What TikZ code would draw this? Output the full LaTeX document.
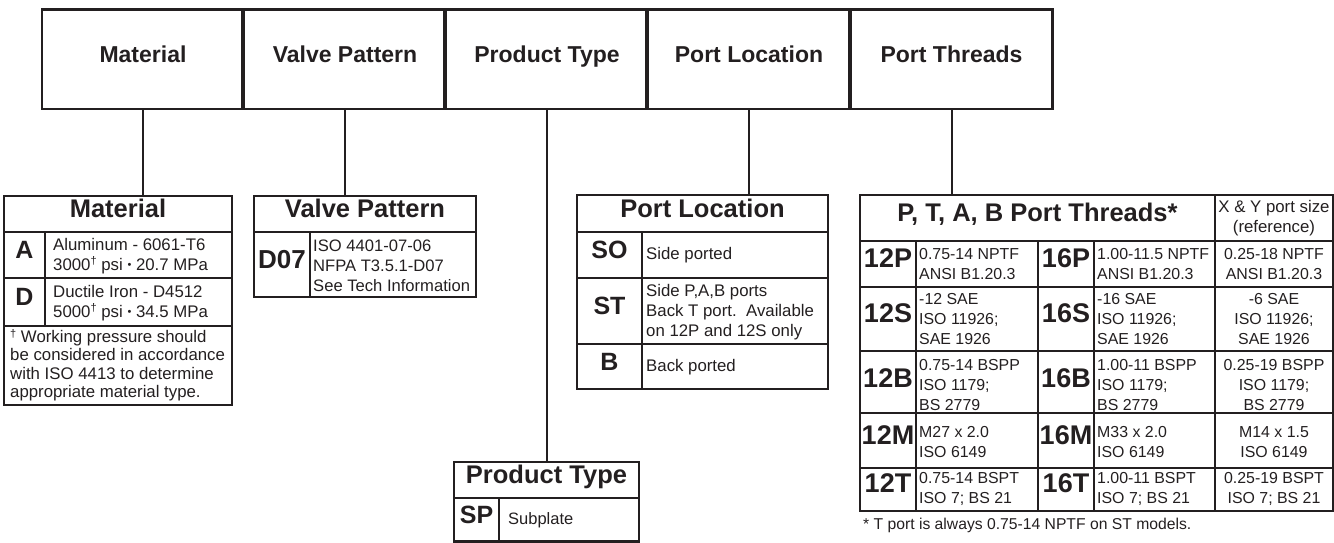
\documentclass[tikz,border=0pt]{standalone}
\usepackage{fontspec}
\setmainfont{Liberation Sans}
\definecolor{ink}{HTML}{231F20}
\newcommand{\dgr}{\raisebox{0.32em}{\fontsize{11}{11}\selectfont †}}
\newcommand{\smdot}{\raisebox{0.08em}{\fontsize{11}{11}\selectfont •}}

\begin{document}
\begin{tikzpicture}[x=1pt, y=-1pt, color=ink,
    topbox/.style={draw, line width=2.2pt, minimum width=202pt, minimum height=99.5pt, inner sep=0pt,
      text height=0.716em, text depth=0pt, font=\fontsize{23}{27}\selectfont\bfseries},
    headcell/.style={draw, line width=2.4pt, minimum height=36pt, inner sep=0pt,
      text height=0.716em, text depth=0pt, font=\fontsize{25.5}{30}\selectfont\bfseries},
    code/.style={inner sep=0pt, text height=0.716em, text depth=0pt, font=\fontsize{25}{30}\selectfont\bfseries},
    bigcode/.style={code, font=\fontsize{27}{30}\selectfont\bfseries},
    txt/.style={anchor=west, align=left, inner sep=0pt, font=\fontsize{16.8}{19.8}\selectfont},
    cell/.style={txt, font=\fontsize{15.9}{20.4}\selectfont},
    ctxt/.style={align=center, inner sep=0pt, font=\fontsize{15.9}{20.4}\selectfont},
    frame/.style={line width=2.4pt},
    rule/.style={line width=1.4pt},
    link/.style={line width=2pt}]
    \useasboundingbox (0,0) rectangle (1334,543);

    % ordering code boxes
    \node [topbox] (material) at (143,59.25) {Material};
    \node [topbox] (valve) at (345,59.25) {Valve Pattern};
    \node [topbox] (ptype) at (547,59.25) {Product Type};
    \node [topbox] (location) at (749,59.25) {Port Location};
    \node [topbox] (threads) at (951.5,59.25) {Port Threads};
    \draw [line width=3.6pt] (valve.north west) -- (valve.south west) (ptype.north west) -- (ptype.south west)
      (location.north west) -- (location.south west) (threads.north west) -- (threads.south west);

    % material
    \node [headcell, minimum width=228pt] (mathead) at (118,214) {Material};
    \draw [frame] (4,232) rectangle (232,405);
    \draw [rule] (4,278) -- (232,278) (4,326) -- (232,326) (45,232) -- (45,326);
    \node [code] (mata) at (24.5,255) {A};
    \node [txt] (matatxt) at (53,256) {Aluminum - 6061-T6\\3000\dgr{} psi \smdot{} 20.7 MPa};
    \node [code] (matd) at (24.5,302) {D};
    \node [txt] (matdtxt) at (53,303) {Ductile Iron - D4512\\5000\dgr{} psi \smdot{} 34.5 MPa};
    \node [txt, font=\fontsize{16.8}{18.3}\selectfont] (matnote) at (10,365)
      {\dgr{} Working pressure should\\be considered in accordance\\with ISO 4413 to determine\\appropriate material type.};

    % valve pattern
    \node [headcell, minimum width=222pt] (valvehead) at (365,214) {Valve Pattern};
    \draw [frame] (254,232) rectangle (476,297);
    \draw [rule] (310,232) -- (310,297);
    \node [code, font=\fontsize{26}{30}\selectfont\bfseries] (d07) at (282,265) {D07};
    \node [txt, font=\fontsize{16.6}{20}\selectfont] (d07txt) at (313,266) {ISO 4401-07-06\\NFPA T3.5.1-D07\\See Tech Information};

    % port location
    \node [headcell, minimum width=251pt, minimum height=37pt] (lochead) at (702.5,213.5) {Port Location};
    \draw [frame] (577,232) rectangle (828,389);
    \draw [rule] (577,278) -- (828,278) (577,344) -- (828,344) (642,232) -- (642,389);
    \node [code] (so) at (609.5,255) {SO};
    \node [txt] (sotxt) at (646,255) {Side ported};
    \node [code] (st) at (609.5,311) {ST};
    \node [txt, font=\fontsize{16.8}{20}\selectfont] (sttxt) at (646,312) {Side P,A,B ports\\Back T port.\ \ Available\\on 12P and 12S only};
    \node [code] (bk) at (609.5,366.5) {B};
    \node [txt] (bktxt) at (646,367) {Back ported};

    % port threads
    \node [headcell, minimum width=355pt, minimum height=46pt] (thrhead) at (1037.5,218) {P, T, A, B Port Threads*};
    \node [headcell, minimum width=118pt, minimum height=46pt, text height=, text depth=, align=center,
      font=\fontsize{16.8}{20}\selectfont] (xyhead) at (1274,218) {X \& Y port size\\(reference)};
    \draw [frame] (860,241) rectangle (1333,511);
    \draw [rule] (860,287) -- (1333,287) (860,351) -- (1333,351) (860,413) -- (1333,413) (860,468) -- (1333,468);
    \draw [rule] (916,241) -- (916,511) (1094,241) -- (1094,511);
    \draw [frame] (1038,241) -- (1038,511) (1215,241) -- (1215,511);

    \node [bigcode] (p12) at (888,264) {12P};
    \node [cell] (p12txt) at (919,264) {0.75-14 NPTF\\ANSI B1.20.3};
    \node [bigcode] (p16) at (1066,264) {16P};
    \node [cell] (p16txt) at (1097,264) {1.00-11.5 NPTF\\ANSI B1.20.3};
    \node [ctxt] (pxy) at (1274,264) {0.25-18 NPTF\\ANSI B1.20.3};

    \node [bigcode] (s12) at (888,319) {12S};
    \node [cell] (s12txt) at (919,319) {-12 SAE\\ISO 11926;\\SAE 1926};
    \node [bigcode] (s16) at (1066,319) {16S};
    \node [cell] (s16txt) at (1097,319) {-16 SAE\\ISO 11926;\\SAE 1926};
    \node [ctxt] (sxy) at (1274,319) {-6 SAE\\ISO 11926;\\SAE 1926};

    \node [bigcode] (b12) at (888,384) {12B};
    \node [cell] (b12txt) at (919,385) {0.75-14 BSPP\\ISO 1179;\\BS 2779};
    \node [bigcode] (b16) at (1066,384) {16B};
    \node [cell] (b16txt) at (1097,385) {1.00-11 BSPP\\ISO 1179;\\BS 2779};
    \node [ctxt] (bxy) at (1274,385) {0.25-19 BSPP\\ISO 1179;\\BS 2779};

    \node [bigcode] (m12) at (888,441) {12M};
    \node [cell] (m12txt) at (919,442) {M27 x 2.0\\ISO 6149};
    \node [bigcode] (m16) at (1066,441) {16M};
    \node [cell] (m16txt) at (1097,442) {M33 x 2.0\\ISO 6149};
    \node [ctxt] (mxy) at (1274,442) {M14 x 1.5\\ISO 6149};

    \node [bigcode] (t12) at (888,489) {12T};
    \node [cell] (t12txt) at (919,489) {0.75-14 BSPT\\ISO 7; BS 21};
    \node [bigcode] (t16) at (1066,489) {16T};
    \node [cell] (t16txt) at (1097,489) {1.00-11 BSPT\\ISO 7; BS 21};
    \node [ctxt] (txy) at (1274,489) {0.25-19 BSPT\\ISO 7; BS 21};

    \node [txt, font=\fontsize{15.7}{18}\selectfont] (thrnote) at (863,525) {* T port is always 0.75-14 NPTF on ST models.};

    % product type
    \node [headcell, minimum width=185pt] (prodhead) at (546.5,480) {Product Type};
    \draw [frame] (454,498) rectangle (639,541.5);
    \draw [rule] (499,498) -- (499,541.5);
    \node [code] (sp) at (476.5,520) {SP};
    \node [txt, font=\fontsize{16.5}{19}\selectfont] (sptxt) at (508,520) {Subplate};

    % links
    \draw [link] (material.south) -- (material.south |- mathead.north);
    \draw [link] (valve.south) -- (valve.south |- valvehead.north);
    \draw [link] (ptype.south) -- (ptype.south |- prodhead.north);
    \draw [link] (location.south) -- (location.south |- lochead.north);
    \draw [link] (threads.south) -- (threads.south |- thrhead.north);
\end{tikzpicture}
\end{document}
